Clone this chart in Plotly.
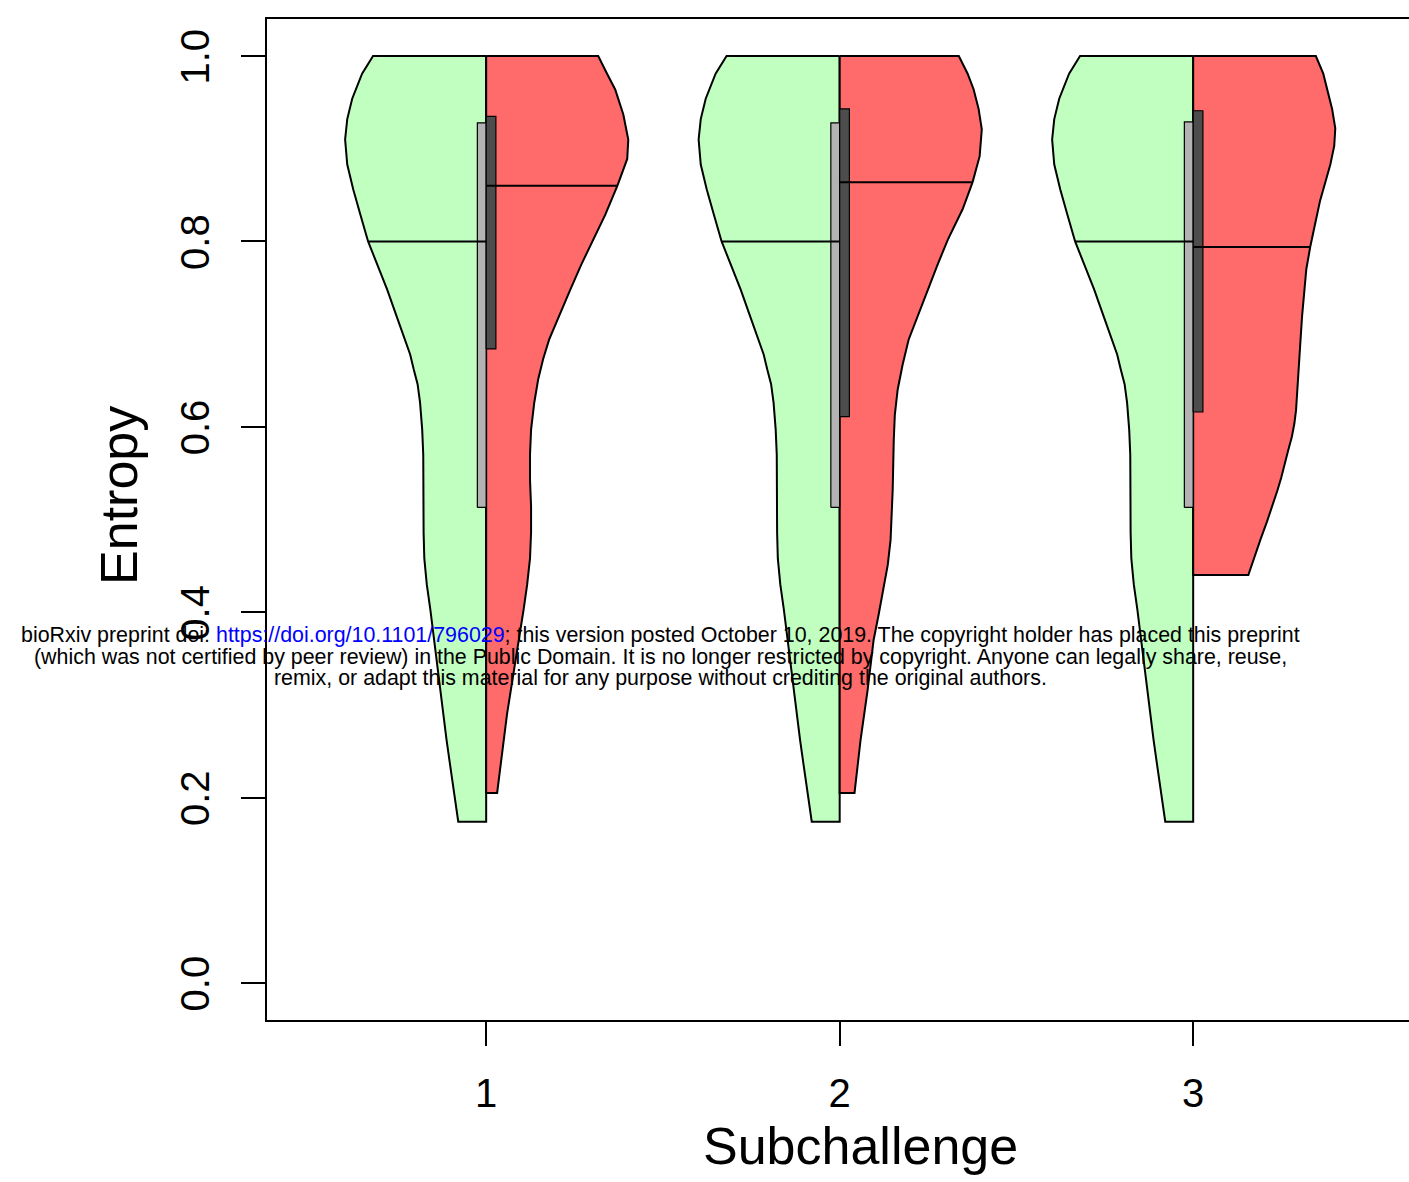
import numpy as np
import plotly.graph_objects as go

# ---- data -------------------------------------------------------------
subchallenges = [1, 2, 3]
tick_labels = ["1", "2", "3"]

# density profiles: entropy level -> half width (x units)
green_y = [1.000, 0.981, 0.954, 0.932, 0.910, 0.883, 0.856, 0.829, 0.800, 0.775,
           0.748, 0.721, 0.694, 0.678, 0.662, 0.646, 0.626, 0.597, 0.570, 0.543,
           0.514, 0.486, 0.458, 0.430, 0.403, 0.375, 0.347, 0.319, 0.290, 0.262,
           0.235, 0.205, 0.174]
green_w = [0.320, 0.351, 0.379, 0.393, 0.399, 0.393, 0.376, 0.356, 0.334, 0.308,
           0.280, 0.255, 0.229, 0.215, 0.205, 0.194, 0.187, 0.181, 0.178, 0.178,
           0.178, 0.177, 0.175, 0.168, 0.158, 0.149, 0.139, 0.130, 0.122, 0.112,
           0.102, 0.091, 0.079]

red1_y = [1.000, 0.981, 0.964, 0.937, 0.910, 0.889, 0.860, 0.829, 0.802, 0.775,
          0.748, 0.721, 0.694, 0.673, 0.651, 0.626, 0.597, 0.570, 0.543, 0.514,
          0.486, 0.458, 0.430, 0.403, 0.375, 0.347, 0.319, 0.290, 0.262, 0.235,
          0.205]
red1_w = [0.317, 0.342, 0.365, 0.388, 0.402, 0.399, 0.371, 0.337, 0.303, 0.269,
          0.238, 0.207, 0.178, 0.161, 0.147, 0.136, 0.127, 0.124, 0.124, 0.127,
          0.127, 0.124, 0.116, 0.106, 0.095, 0.082, 0.071, 0.059, 0.050, 0.040,
          0.031]

red2_y = [1.000, 0.981, 0.964, 0.943, 0.921, 0.892, 0.864, 0.835, 0.802, 0.775,
          0.748, 0.721, 0.694, 0.667, 0.640, 0.613, 0.586, 0.532, 0.478, 0.451,
          0.424, 0.397, 0.370, 0.316, 0.262, 0.205]
red2_w = [0.337, 0.362, 0.379, 0.393, 0.402, 0.396, 0.376, 0.348, 0.306, 0.277,
          0.249, 0.221, 0.195, 0.178, 0.164, 0.156, 0.153, 0.150, 0.144, 0.136,
          0.124, 0.110, 0.096, 0.079, 0.059, 0.042]

red3_y = [1.000, 0.981, 0.960, 0.943, 0.922, 0.903, 0.883, 0.864, 0.844, 0.819,
          0.794, 0.770, 0.748, 0.719, 0.690, 0.662, 0.633, 0.618, 0.603, 0.589,
          0.575, 0.560, 0.545, 0.531, 0.517, 0.498, 0.478, 0.459, 0.440]
red3_w = [0.347, 0.368, 0.382, 0.393, 0.402, 0.399, 0.388, 0.373, 0.359, 0.345,
          0.331, 0.320, 0.314, 0.308, 0.303, 0.298, 0.294, 0.291, 0.286, 0.279,
          0.269, 0.260, 0.249, 0.238, 0.226, 0.209, 0.190, 0.173, 0.156]

red_profiles = [(red1_y, red1_w), (red2_y, red2_w), (red3_y, red3_w)]

green_median = [0.800, 0.800, 0.800]
red_median = [0.860, 0.864, 0.794]
green_q1 = [0.513, 0.513, 0.513]
green_q3 = [0.928, 0.928, 0.929]
red_q1 = [0.684, 0.611, 0.616]
red_q3 = [0.935, 0.943, 0.941]

# ---- styling ----------------------------------------------------------
GREEN = "#C1FFC1"
RED = "#FF6A6A"
BOX_LIGHT = "#B3B3B3"
BOX_DARK = "#4D4D4D"
FONT = "Liberation Sans, Arial, Helvetica, sans-serif"
BOX_W = 0.025

fig = go.Figure()


def half_violin(center, ys, ws, side, color):
    ys = np.asarray(ys)
    ws = np.asarray(ws)
    xs = center + side * ws
    px = np.concatenate([[center], xs, [center, center]])
    py = np.concatenate([[ys[0]], ys, [ys[-1], ys[0]]])
    fig.add_trace(go.Scatter(x=px, y=py, mode="lines", fill="toself",
                             fillcolor=color,
                             line=dict(color="black", width=2),
                             hoverinfo="skip", showlegend=False))


def rect(x0, x1, y0, y1, color):
    fig.add_trace(go.Scatter(x=[x0, x1, x1, x0, x0], y=[y0, y0, y1, y1, y0],
                             mode="lines", fill="toself", fillcolor=color,
                             line=dict(color="black", width=1.2),
                             hoverinfo="skip", showlegend=False))


def median_line(center, ys, ws, side, med):
    # profile is stored top-down, np.interp wants ascending x
    w = np.interp(med, ys[::-1], ws[::-1])
    fig.add_trace(go.Scatter(x=[center, center + side * w], y=[med, med],
                             mode="lines", line=dict(color="black", width=2),
                             hoverinfo="skip", showlegend=False))


for i, c in enumerate(subchallenges):
    ry, rw = red_profiles[i]
    half_violin(c, green_y, green_w, -1, GREEN)
    half_violin(c, ry, rw, +1, RED)
    rect(c - BOX_W, c, green_q1[i], green_q3[i], BOX_LIGHT)
    rect(c, c + BOX_W * 1.1, red_q1[i], red_q3[i], BOX_DARK)
    median_line(c, green_y, green_w, -1, green_median[i])
    median_line(c, ry, rw, +1, red_median[i])

# ---- axes -------------------------------------------------------------
fig.update_xaxes(range=[0.38, 3.6105], tickvals=subchallenges, ticktext=tick_labels,
                 showline=True, linecolor="black", linewidth=2, mirror=True,
                 ticks="outside", ticklen=24, tickwidth=2, tickcolor="black",
                 ticklabelstandoff=13,
                 tickfont=dict(family=FONT, size=40, color="black"),
                 showgrid=False, zeroline=False, fixedrange=True)
# rotated labels read bottom-to-top; the trailing thin space centres the digits on the tick
fig.update_yaxes(range=[-0.04, 1.04], tick0=0, dtick=0.2, tickformat=".1f",
                 ticksuffix="\u2004",
                 tickangle=-90, ticklabelstandoff=16,
                 showline=True, linecolor="black", linewidth=2,
                 ticks="outside", ticklen=24, tickwidth=2, tickcolor="black",
                 tickfont=dict(family=FONT, size=40, color="black"),
                 showgrid=False, zeroline=False, fixedrange=True)

annotations = [
    dict(text="Subchallenge", x=0.520, y=-0.126, xref="paper", yref="paper",
         xanchor="center", yanchor="middle", showarrow=False,
         font=dict(family=FONT, size=52, color="black")),
    dict(text="Entropy", x=-0.1296, y=0.5245, xref="paper", yref="paper",
         xanchor="center", yanchor="middle", textangle=-90, showarrow=False,
         font=dict(family=FONT, size=52, color="black")),
]

stamp = [
    "bioRxiv preprint doi: <span style='color:#0000FF'>https://doi.org/10.1101/796029</span>; "
    "this version posted October 10, 2019. The copyright holder has placed this preprint",
    "(which was not certified by peer review) in the Public Domain. It is no longer restricted "
    "by copyright. Anyone can legally share, reuse,",
    "remix, or adapt this material for any purpose without crediting the original authors.",
]
for line, yp in zip(stamp, [0.3846, 0.3626, 0.3417]):
    annotations.append(dict(text=line, x=0.345, y=yp, xref="paper", yref="paper",
                            xanchor="center", yanchor="middle", showarrow=False,
                            font=dict(family=FONT, size=21.4, color="black")))

fig.update_layout(width=1409, height=1182,
                  margin=dict(l=267, r=0, t=19, b=162),
                  paper_bgcolor="white", plot_bgcolor="white",
                  annotations=annotations, showlegend=False)

fig.write_html("out.html")
